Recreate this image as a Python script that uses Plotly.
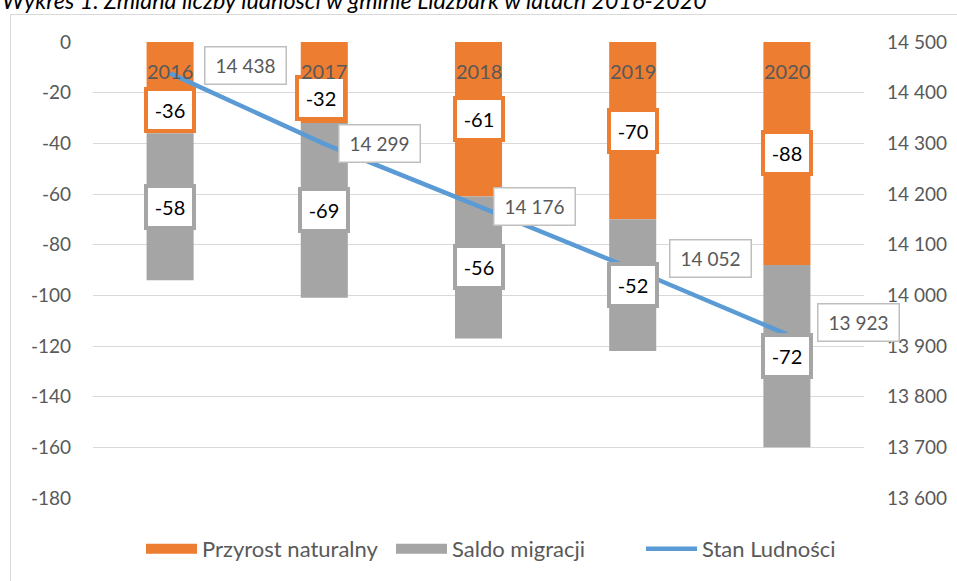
import plotly.graph_objects as go

years = ["2016", "2017", "2018", "2019", "2020"]
przyrost = [-36, -32, -61, -70, -88]
saldo = [-58, -69, -56, -52, -72]
stan = [14438, 14299, 14176, 14052, 13923]
left_ticks = [0, -20, -40, -60, -80, -100, -120, -140, -160, -180]
right_ticks = [14500, 14400, 14300, 14200, 14100, 14000, 13900, 13800, 13700, 13600]

ORANGE = "#ED7D31"
GRAY = "#A5A5A5"
BLUE = "#5B9BD5"
TXT = "#595959"
GRID = "#D9D9D9"
FONT = "Lato"

W, H = 957, 581
L, R, T, B = 93, 93, 42, 83
pw, ph = W - L - R, H - T - B

def px_x(p):
    return (p - L) / pw

def px_y(p):
    return 1 - (p - T) / ph

def fmt(v):
    return f"{v:,}".replace(",", " ")

fig = go.Figure()
fig.add_trace(go.Bar(x=years, y=przyrost, name="Przyrost naturalny", showlegend=False,
                     marker=dict(color=ORANGE, line=dict(width=0))))
fig.add_trace(go.Bar(x=years, y=saldo, name="Saldo migracji", showlegend=False,
                     marker=dict(color=GRAY, line=dict(width=0))))
fig.add_trace(go.Scatter(x=years, y=stan, name="Stan Ludności", mode="lines", showlegend=False,
                         line=dict(color=BLUE, width=4.5), yaxis="y2"))
# legend entries (wide swatches like the original)
for nm, col, wd in [("Przyrost naturalny", ORANGE, 11), ("Saldo migracji", GRAY, 11),
                    ("Stan Ludności", BLUE, 4.5)]:
    fig.add_trace(go.Scatter(x=[None], y=[None], name=nm, mode="lines",
                             line=dict(color=col, width=wd), hoverinfo="skip"))

ann = []
# bar labels
orange_shift = [-22, -15, 0, 0, 0]
orange_xshift = [0, -3, 0, 0, 0]
for i, yr in enumerate(years):
    ann.append(dict(x=i, y=przyrost[i] / 2, xref="x", yref="y", text=str(przyrost[i]),
                    showarrow=False, yshift=orange_shift[i], xshift=orange_xshift[i],
                    font=dict(family=FONT, size=20, color="black"),
                    bgcolor="white", bordercolor=ORANGE, borderwidth=4, borderpad=2,
                    width=40, height=34))
    ann.append(dict(x=i, y=przyrost[i] + saldo[i] / 2, xref="x", yref="y", text=str(saldo[i]),
                    showarrow=False,
                    font=dict(family=FONT, size=20, color="black"),
                    bgcolor="white", bordercolor=GRAY, borderwidth=4, borderpad=2,
                    width=40, height=34))
# category labels near the top (category axis crossing at 0), drawn over the bars
for i, yr in enumerate(years):
    ann.append(dict(x=i, y=0, xref="x", yref="y", text=yr, showarrow=False,
                    yanchor="top", yshift=-15,
                    font=dict(family=FONT, size=20, color=TXT)))
# line labels
line_xshift = [75, 55, 56, 78, 72]
line_yshift = [8, 0, 0, 10, 12]
for i, yr in enumerate(years):
    ann.append(dict(x=i, y=stan[i], xref="x", yref="y2", text=fmt(stan[i]),
                    showarrow=False, xshift=line_xshift[i], yshift=line_yshift[i],
                    font=dict(family=FONT, size=19, color=TXT),
                    bgcolor="white", bordercolor="#BFBFBF", borderwidth=1.5, borderpad=2,
                    width=76, height=32))
# title (partially cut at top)
ann.append(dict(x=px_x(0), y=px_y(16), xref="paper", yref="paper", xanchor="left", yanchor="bottom",
                text="<i>Wykres 1. Zmiana liczby ludności w gminie Lidzbark w latach 2016-2020</i>",
                showarrow=False, font=dict(family=FONT, size=23.3, color="black")))

shapes = [dict(type="rect", xref="paper", yref="paper",
               x0=px_x(10.5), x1=px_x(975), y0=px_y(600), y1=px_y(14.5),
               line=dict(color=GRID, width=1), fillcolor="rgba(0,0,0,0)", layer="below")]

fig.update_layout(
    width=W, height=H,
    margin=dict(l=L, r=R, t=T, b=B, autoexpand=False),
    barmode="relative", bargap=0.695,
    plot_bgcolor="white", paper_bgcolor="white",
    font=dict(family=FONT, size=20, color=TXT),
    showlegend=True,
    hovermode=False,
    legend=dict(orientation="h", x=px_x(141), xanchor="left", y=px_y(549), yanchor="middle",
                font=dict(family=FONT, size=22, color=TXT), itemwidth=51,
                entrywidth=184, entrywidthmode="pixels",
                traceorder="normal", tracegroupgap=0),
    xaxis=dict(type="category", range=[-0.5, 4.5], showticklabels=False,
               showgrid=False, showline=False, ticks="", automargin=False, zeroline=False),
    yaxis=dict(range=[-180, 0], tickvals=left_ticks, ticktext=[str(v) for v in left_ticks],
               showgrid=True, gridcolor=GRID, gridwidth=1, zeroline=False, automargin=False,
               ticks="", ticklabelstandoff=21, tickfont=dict(size=19, color=TXT)),
    yaxis2=dict(range=[13600, 14500], overlaying="y", side="right",
                tickvals=right_ticks, ticktext=[fmt(v) for v in right_ticks],
                showgrid=False, zeroline=False, ticks="", ticklabelstandoff=22, automargin=False,
                tickfont=dict(size=19, color=TXT)),
    annotations=ann,
    shapes=shapes,
)

fig.write_html("out.html", config={"displayModeBar": False},
               post_script="document.body.style.margin='0';")
